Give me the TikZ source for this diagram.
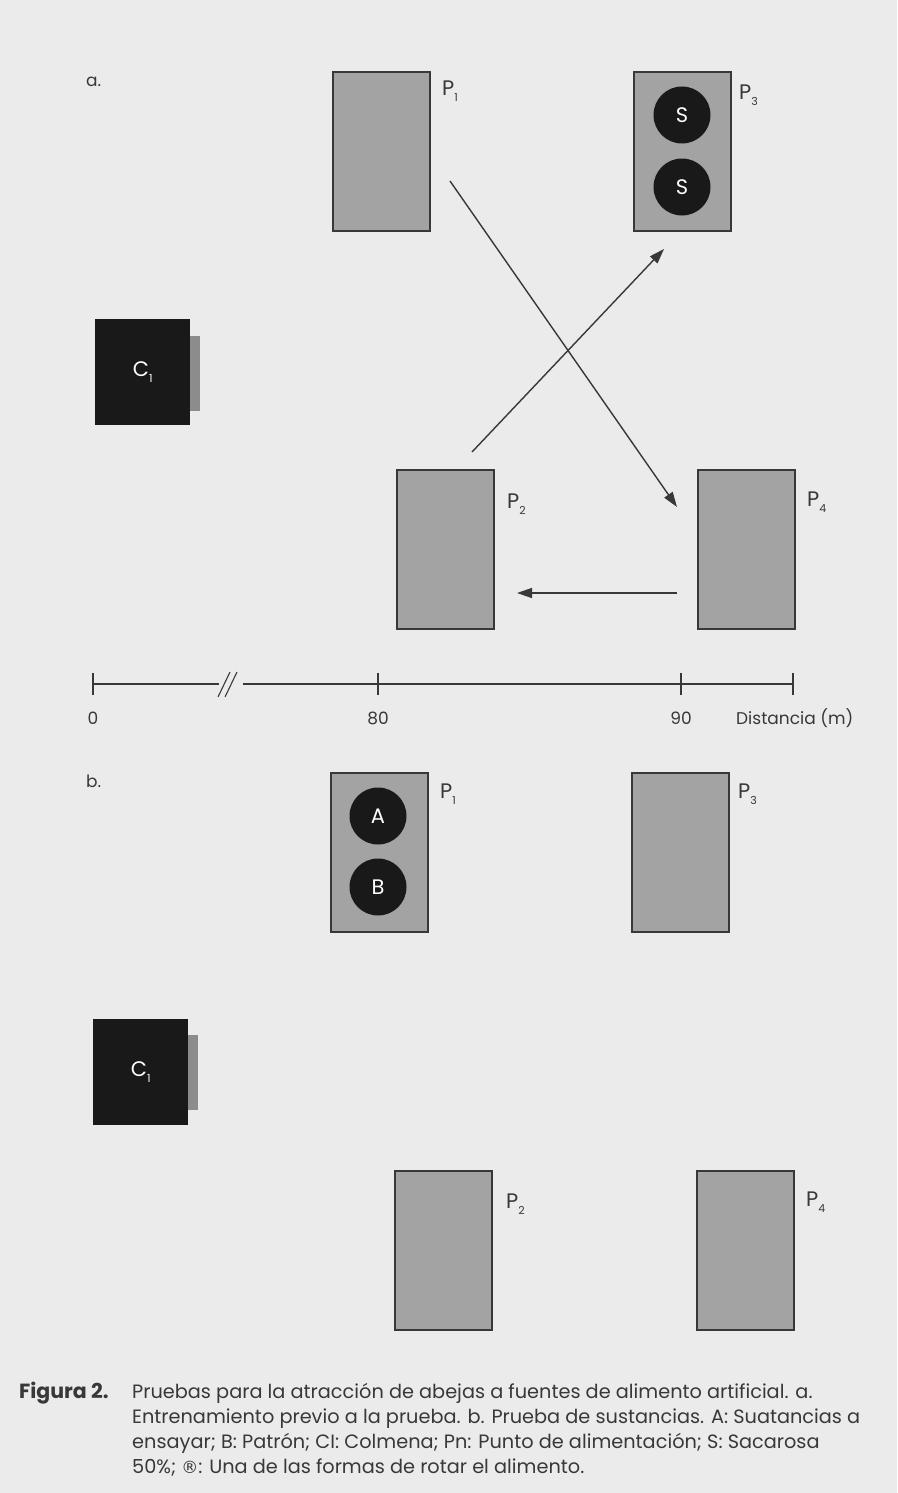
\documentclass[tikz,border=0pt]{standalone}
\usepackage{fontspec}
\setmainfont{Poppins}
\newfontfamily\dvsym{DejaVu Sans}
\usetikzlibrary{arrows.meta}
\definecolor{bg}{gray}{0.92}
\definecolor{boxfill}{gray}{0.64}
\definecolor{ink}{gray}{0.22}
\definecolor{blk}{gray}{0.1}
\definecolor{shadowc}{gray}{0.55}
\newcommand\lsub[1]{\raisebox{-0.5ex}{\fontsize{11}{11}\selectfont #1}}
\begin{document}
\begin{tikzpicture}[x=1pt,y=-1pt,
  feeder/.style={draw=ink, line width=2.4pt, fill=boxfill, minimum width=97pt, minimum height=159pt, inner sep=0pt, anchor=north west},
  hive/.style={fill=blk, minimum width=95pt, minimum height=106pt, inner sep=0pt, anchor=north west, text=white, font=\fontsize{21}{21}\selectfont},
  dish/.style={circle, fill=blk, minimum size=57pt, inner sep=0pt, text=white, font=\fontsize{21}{21}\selectfont},
  plabel/.style={anchor=west, inner sep=0pt, text=ink, font=\fontsize{21}{21}\selectfont},
  axlabel/.style={inner sep=0pt, text=ink, font=\fontsize{17}{17}\selectfont},
  captxt/.style={inner sep=0pt, anchor=base west, text=ink, font=\fontsize{19.3}{19.3}\selectfont},
  axis/.style={draw=ink, line width=1.3pt},
  move/.style={draw=ink, line width=1.4pt, -{Triangle[length=15pt,width=10pt]}}
]
\useasboundingbox (0,0) rectangle (897,1493);
\fill[bg] (0,0) rectangle (897,1493);

% ---------- part a ----------
\node[axlabel, anchor=west] (lbla) at (86,82) {a.};
\node[feeder] (a1) at (332,71) {};
\node[feeder] (a3) at (633,71) {};
\node[feeder] (a2) at (396,469) {};
\node[feeder] (a4) at (697,469) {};
\node[plabel] (pa1) at (442,91) {P\lsub{1}};
\node[plabel] (pa3) at (739,95) {P\lsub{3}};
\node[plabel] (pa2) at (507,504) {P\lsub{2}};
\node[plabel] (pa4) at (807,502) {P\lsub{4}};
\node[dish] (s1) at (682,115) {S};
\node[dish] (s2) at (682,187) {S};
\fill[shadowc] (190,336) rectangle (200,411);
\node[hive] (ca) at (95,319) {C\lsub{1}};

\coordinate (m1s) at (450,181);
\coordinate (m1e) at (677,507);
\coordinate (m2s) at (472,452);
\coordinate (m2e) at (664,249);
\coordinate (m3s) at (677,593);
\coordinate (m3e) at (517,593);
\draw[move] (m1s) -- (m1e);
\draw[move] (m2s) -- (m2e);
\draw[move] (m3s) -- (m3e);

% ---------- distance axis ----------
\draw[axis] (93,684) -- (219,684);
\draw[axis] (243,684) -- (793,684);
\draw[axis] (93,673) -- (93,695);
\draw[axis] (378,673) -- (378,695);
\draw[axis] (681,673) -- (681,695);
\draw[axis] (793,673) -- (793,695);
\draw[axis, line width=1.1pt] (218,697) -- (230,672);
\draw[axis, line width=1.1pt] (225,697) -- (237,672);
\node[axlabel] (t0) at (93,718) {0};
\node[axlabel] (t80) at (378,718) {80};
\node[axlabel] (t90) at (681,718) {90};
\node[axlabel, anchor=west] (tdist) at (736,718) {Distancia (m)};

% ---------- part b ----------
\node[axlabel, anchor=west] (lblb) at (86,781) {b.};
\node[feeder] (b1) at (330,772) {};
\node[feeder] (b3) at (631,772) {};
\node[feeder] (b2) at (394,1170) {};
\node[feeder] (b4) at (696,1170) {};
\node[plabel] (pb1) at (440,794) {P\lsub{1}};
\node[plabel] (pb3) at (738,794) {P\lsub{3}};
\node[plabel] (pb2) at (506,1204) {P\lsub{2}};
\node[plabel] (pb4) at (806,1202) {P\lsub{4}};
\node[dish] (da) at (378,816) {A};
\node[dish] (db) at (378,887) {B};
\fill[shadowc] (188,1035) rectangle (198,1110);
\node[hive] (cb) at (93,1019) {C\lsub{1}};

% ---------- caption ----------
\node[captxt, font=\fontsize{20.5}{20.5}\selectfont\bfseries] (fig) at (19,1398) {Figura 2.};
\node[captxt] (c1) at (132,1398) {Pruebas para la atracción de abejas a fuentes de alimento artificial. a.};
\node[captxt] (c2) at (132,1423) {Entrenamiento previo a la prueba. b. Prueba de sustancias. A: Suatancias a};
\node[captxt] (c3) at (132,1448) {ensayar; B: Patrón; CI: Colmena; Pn: Punto de alimentación; S: Sacarosa};
\node[captxt] (c4) at (132,1473) {50\%; {\dvsym\fontsize{17}{17}\selectfont ®}: Una de las formas de rotar el alimento.};
\end{tikzpicture}
\end{document}
